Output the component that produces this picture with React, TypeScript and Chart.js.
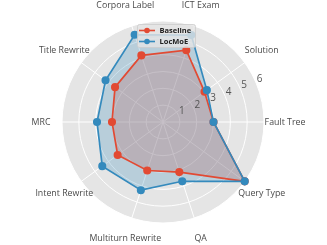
import { useEffect, useRef } from 'react';
import { Chart, registerables } from 'chart.js';

Chart.register(...registerables);

const categories = [
  'Corpora Label',
  'ICT Exam',
  'Solution',
  'Fault Tree',
  'Query Type',
  'QA',
  'Multiturn Rewrite',
  'Intent Rewrite',
  'MRC',
  'Title Rewrite',
];
const baselineValues = [4.16, 4.48, 3.05, 3.0, 6.0, 3.13, 3.03, 3.33, 3.03, 3.52];
const locmoeValues = [5.45, 5.43, 3.22, 3.0, 6.0, 3.7, 4.26, 4.46, 3.92, 4.22];
const radialTicks = [1, 2, 3, 4, 5, 6];
const seriesNames = ['Baseline', 'LocMoE'];
const seriesColors = ['#E24A33', '#348ABD'];
const seriesFills = ['rgba(226,74,51,0.25)', 'rgba(52,138,189,0.25)'];

const App = () => {
  const ref = useRef<HTMLCanvasElement>(null);

  useEffect(() => {
    document.body.style.margin = '0';
    const canvas = ref.current;
    if (!canvas) return;

    const bgPlugin = {
      id: 'polarBg',
      beforeDraw(chart: any) {
        const s = chart.scales.r;
        const ctx = chart.ctx;
        ctx.save();
        ctx.beginPath();
        ctx.arc(s.xCenter, s.yCenter, s.drawingArea, 0, Math.PI * 2);
        ctx.fillStyle = '#E5E5E5';
        ctx.fill();
        ctx.restore();
      },
    };

    const textPlugin = {
      id: 'polarText',
      afterDatasetsDraw(chart: any) {
        const s = chart.scales.r;
        const ctx = chart.ctx;
        ctx.save();
        const a = (22.5 * Math.PI) / 180;
        ctx.font = '10px "Open Sans"';
        ctx.fillStyle = '#555555';
        ctx.textAlign = 'left';
        ctx.textBaseline = 'alphabetic';
        radialTicks.forEach((v) => {
          const d = s.getDistanceFromCenterForValue(v);
          const x = s.xCenter + Math.cos(a) * d;
          const y = s.yCenter - Math.sin(a) * d;
          ctx.fillText(String(v), x + 0.5, y - 1.5);
        });
        ctx.font = '8.8px "Open Sans"';
        ctx.fillStyle = '#4a4a4a';
        ctx.textAlign = 'center';
        ctx.textBaseline = 'middle';
        categories.forEach((c, i) => {
          const p = s.getPointPosition(i, s.drawingArea + 21);
          ctx.fillText(c, p.x, p.y);
        });
        ctx.restore();
      },
      afterDraw(chart: any) {
        const ctx = chart.ctx;
        ctx.save();
        const bx = 137.5;
        const by = 24.5;
        const bw = 58;
        const bh = 23;
        ctx.beginPath();
        ctx.roundRect(bx, by, bw, bh, 2);
        ctx.fillStyle = 'rgba(229,229,229,0.8)';
        ctx.fill();
        ctx.strokeStyle = 'rgba(204,204,204,0.8)';
        ctx.lineWidth = 1;
        ctx.stroke();
        seriesNames.forEach((name, i) => {
          const ds = chart.data.datasets.find((d: any) => d.label === name);
          const y = 30.5 + i * 11;
          ctx.strokeStyle = ds.borderColor;
          ctx.lineWidth = 1.6;
          ctx.beginPath();
          ctx.moveTo(139, y);
          ctx.lineTo(155, y);
          ctx.stroke();
          ctx.beginPath();
          ctx.arc(147, y, 2.8, 0, Math.PI * 2);
          ctx.fillStyle = ds.borderColor;
          ctx.fill();
          ctx.fillStyle = '#222222';
          ctx.font = 'bold 7.5px "Open Sans"';
          ctx.textAlign = 'left';
          ctx.textBaseline = 'middle';
          ctx.fillText(name, 159.5, y + 0.5);
        });
        ctx.restore();
      },
    };

    const chart = new Chart(canvas, {
      type: 'radar',
      data: {
        labels: categories,
        datasets: [
          {
            label: seriesNames[1],
            data: locmoeValues,
            borderColor: seriesColors[1],
            backgroundColor: seriesFills[1],
            pointBackgroundColor: seriesColors[1],
            pointBorderColor: seriesColors[1],
            pointRadius: 3.2,
            borderWidth: 1.7,
            fill: true,
          },
          {
            label: seriesNames[0],
            data: baselineValues,
            borderColor: seriesColors[0],
            backgroundColor: seriesFills[0],
            pointBackgroundColor: seriesColors[0],
            pointBorderColor: seriesColors[0],
            pointRadius: 3.2,
            borderWidth: 1.7,
            fill: true,
          },
        ],
      },
      options: {
        responsive: false,
        animation: false,
        devicePixelRatio: 1,
        layout: { padding: { left: 62, right: 62, top: 21, bottom: 21 } },
        plugins: {
          legend: { display: false },
          tooltip: { enabled: false },
          filler: { drawTime: 'beforeDatasetsDraw' },
        },
        elements: { line: { tension: 0 } },
        scales: {
          r: {
            min: 0,
            max: 6,
            startAngle: -18,
            ticks: { display: false, stepSize: 1 },
            pointLabels: { display: false },
            grid: { circular: true, color: '#FFFFFF', lineWidth: 1 },
            angleLines: { display: true, color: '#FFFFFF', lineWidth: 1 },
          },
        },
      },
      plugins: [bgPlugin, textPlugin],
    });

    return () => chart.destroy();
  }, []);

  return <canvas ref={ref} width={327} height={245} style={{ display: 'block' }} />;
};

export default App;
